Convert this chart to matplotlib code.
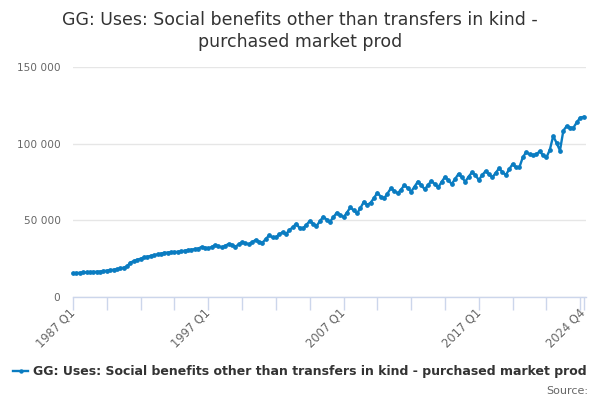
import matplotlib
matplotlib.use("Agg")
import matplotlib.pyplot as plt
from matplotlib.ticker import FuncFormatter

title = "GG: Uses: Social benefits other than transfers in kind -\npurchased market prod"
series_name = "GG: Uses: Social benefits other than transfers in kind - purchased market prod"

start_year = 1987
values = [
    15400, 15600, 15800, 16000,
    16000, 16200, 16300, 16500,
    16600, 16900, 17200, 17500,
    17800, 18200, 18600, 19200,
    20000, 22500, 23400, 24300,
    25000, 25800, 26300, 26800,
    27300, 27800, 28300, 28800,
    29000, 29200, 29300, 29500,
    29700, 30200, 30600, 30900,
    31200, 31600, 32600, 32200,
    31700, 32600, 33900, 33000,
    32400, 33400, 34600, 34000,
    32800, 34300, 35800, 35000,
    34400, 35800, 37200, 36000,
    35400, 37800, 40200, 38900,
    39000, 40800, 42300, 41000,
    43700, 45500, 47800, 45000,
    44800, 47000, 49600, 47800,
    46300, 49300, 52400, 50500,
    49100, 52000, 55000, 53500,
    52000, 55000, 58400, 56500,
    54600, 58000, 62100, 60000,
    61500, 64500, 68000, 65500,
    64300, 67500, 70900, 69200,
    67600, 70000, 73000, 71000,
    68700, 72000, 75300, 73000,
    70200, 73000, 75800, 73500,
    71500, 75000, 78300, 76000,
    73700, 77000, 80300, 78000,
    75200, 78500, 81300, 79500,
    76300, 79500, 82100, 80000,
    78000, 81000, 83900, 81500,
    79500, 83400, 86700, 84500,
    84600, 91000, 94500, 93000,
    92500, 93000, 95000, 92500,
    91000, 96000, 105000, 100500,
    95500, 108500, 111500, 110500,
    110500, 114000, 117000, 117500,
]
labels = [f"{start_year + i // 4} Q{i % 4 + 1}" for i in range(len(values))]
label_positions = [0, 40, 80, 120, len(values) - 1]
other_tick_positions = [p for p in range(0, len(values), 10) if p not in label_positions]
y_ticks = [0, 50000, 100000, 150000]

line_color = "#0a7cc1"
text_color = "#333333"
tick_color = "#666666"

fig = plt.figure(figsize=(6, 4), dpi=100)
ax = fig.add_axes([73 / 600, 1 - 297 / 400, (586 - 73) / 600, (297 - 67) / 400])

x = list(range(len(values)))
ax.plot(x, values, color=line_color, linewidth=1.7, marker="o", markersize=2.4,
        clip_on=False, zorder=3)

ax.set_xlim(0, len(values) - 0.3)
ax.set_ylim(0, 150000)
ax.set_yticks(y_ticks)
ax.yaxis.set_major_formatter(FuncFormatter(lambda v, p: f"{int(v):,}".replace(",", " ")))
ax.grid(axis="y", color="#e6e6e6", linewidth=1)
ax.set_axisbelow(True)

ax.set_xticks(label_positions)
ax.set_xticklabels([labels[i] for i in label_positions], rotation=45, ha="right",
                   va="center", rotation_mode="anchor", fontsize=8.3, color=tick_color)
ax.set_xticks(other_tick_positions, minor=True)
ax.tick_params(axis="x", which="both", length=9, width=1, color="#ccd6eb", pad=1)
ax.tick_params(axis="y", length=0, labelsize=7.6, labelcolor=tick_color, pad=9)

for s in ["top", "right", "left"]:
    ax.spines[s].set_visible(False)
ax.spines["bottom"].set_color("#ccd6eb")
ax.spines["bottom"].set_linewidth(1)

fig.text(0.5, 1 - 31 / 400, title, ha="center", va="center", fontsize=12.5,
         color=text_color, linespacing=1.25)

fig.legend([ax.lines[0]], [series_name], loc="center", bbox_to_anchor=(0.5, 1 - 372 / 400),
           frameon=False, prop={"weight": "bold", "size": 9},
           handlelength=1.2, handletextpad=0.4, markerscale=0.9, labelcolor=text_color)
fig.text(588 / 600, 1 - 391 / 400, "Source:", ha="right", va="center",
         fontsize=8, color=tick_color)

fig.savefig("out.png", dpi=100)
